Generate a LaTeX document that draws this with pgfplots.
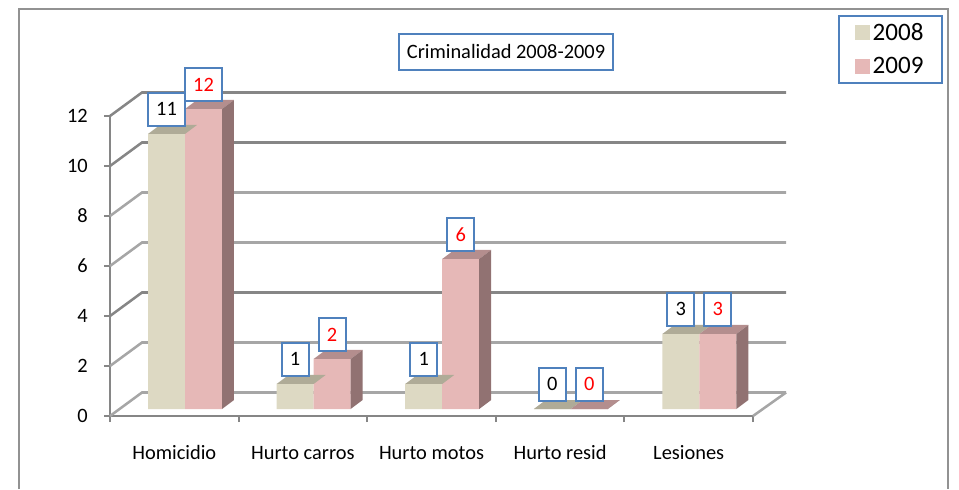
\documentclass[border=0pt]{standalone}
\usepackage{pgfplots}
\pgfplotsset{compat=1.18}
\usepackage{fontspec}
\setmainfont{Carlito}
\definecolor{beige}{HTML}{DDD9C3}
\definecolor{beigetop}{HTML}{AFAB97}
\definecolor{rosa}{HTML}{E6B8B7}
\definecolor{rosatop}{HTML}{B48E8E}
\definecolor{rosaside}{HTML}{917272}
\definecolor{azul}{HTML}{4F81BD}
\definecolor{gridd}{HTML}{868686}
\definecolor{gridl}{HTML}{A6A6A6}
\newcommand\lab{\fontsize{15.3}{18}\selectfont}
% one wall line: value level, colour
\newcommand\wall[2]{\addplot[#2,line width=1.9pt,forget plot] coordinates {(0,#1) (0.2488,{#1+0.94}) (5.257,{#1+0.94})};}
% top and side faces of the pair of bars at centre #1 with values #2 (2008), #3 (2009)
\newcommand\faces[3]{%
\addplot[fill=beigetop,draw=none,forget plot] coordinates {({#1-0.2877},#2) (#1,#2) ({#1+0.0933},{#2+0.36}) ({#1-0.1944},{#2+0.36}) ({#1-0.2877},#2)};
\addplot[fill=rosatop,draw=none,forget plot] coordinates {(#1,#3) ({#1+0.2877},#3) ({#1+0.381},{#3+0.36}) ({#1+0.0933},{#3+0.36}) (#1,#3)};
\addplot[fill=rosaside,draw=none,forget plot] coordinates {({#1+0.2877},0) ({#1+0.381},0.36) ({#1+0.381},{#3+0.36}) ({#1+0.2877},#3) ({#1+0.2877},0)};
}
\pgfplotsset{lbox/.style 2 args={forget plot,ybar,bar width=27.75pt,draw=none,fill=none,
  nodes near coords,
  every node near coord/.append style={anchor=south,yshift=5.4pt,xshift=#2,font=\lab,draw=azul,line width=1.5pt,fill=white,
    minimum height=24.6pt,inner xsep=6.3pt,inner ysep=0pt,text=#1}}}
\begin{document}
\begin{tikzpicture}
\useasboundingbox (0,0) rectangle (719.25pt,366.75pt);
\draw[gridd!90,line width=1.7pt] (14.25pt,0pt) -- (14.25pt,360pt) -- (711pt,360pt) -- (711pt,0pt);
\begin{axis}[
  at={(82.5pt,54.75pt)},anchor=south west,scale only axis,width=482.25pt,height=225pt,
  xmin=0,xmax=5,ymin=0,ymax=12,clip=false,no markers,
  axis lines=left,axis line style={-,gridd,line width=1.6pt},
  tick align=outside,major tick length=4.5pt,
  tick style={gridd,line width=1.4pt},
  ytick={0,2,4,6,8,10,12},
  yticklabel style={font=\lab,inner sep=0pt,xshift=-12pt},
  xtick={0,1,2,3,4,5},xticklabels={},
  extra x ticks={0.5,1.5,2.5,3.5,4.5},
  extra x tick labels={Homicidio,Hurto carros,Hurto motos,Hurto resid,Lesiones},
  extra x tick style={major tick length=0pt,tick style={draw=none},
    xticklabel style={font=\lab,inner sep=0pt,yshift=-21.5pt,text height=11pt,text depth=3.5pt}},
  /pgf/number format/assume math mode=true,
  title={Criminalidad 2008-2009},
  title style={at={(0.6159,1.188)},anchor=center,font=\lab,draw=azul,line width=1.5pt,fill=white,
    minimum width=160.5pt,minimum height=27pt,inner sep=0pt},
]
\wall{0}{gridl}
\wall{2}{gridl}
\wall{4}{gridd}
\wall{6}{gridl}
\wall{8}{gridl}
\wall{10}{gridd}
\wall{12}{gridd}
\addplot[gridl,line width=1.9pt,forget plot] coordinates {(5,0) (5.257,0.94)};
\end{axis}
\begin{axis}[
  at={(90.525pt,60pt)},anchor=south west,scale only axis,width=482.25pt,height=225pt,
  xmin=0,xmax=5,ymin=0,ymax=12,clip=false,no markers,hide axis,
  /pgf/number format/assume math mode=true,
  legend cell align=left,
  legend image code/.code={\fill[#1] (0pt,-5.6pt) rectangle (11.25pt,5.6pt);},
  legend style={at={(1.1155,1.3133)},anchor=north west,draw=azul,line width=1.5pt,
    font=\fontsize{18.8}{22}\selectfont,inner xsep=12pt,inner ysep=3.5pt,row sep=7pt},
]
\addplot[ybar,bar width=27.75pt,bar shift=-13.875pt,fill=beige,draw=none] coordinates {(0.5,11) (1.5,1) (2.5,1) (3.5,0) (4.5,3)};
\addlegendentry{2008}
\addplot[ybar,bar width=27.75pt,bar shift=13.875pt,fill=rosa,draw=none] coordinates {(0.5,12) (1.5,2) (2.5,6) (3.5,0) (4.5,3)};
\addlegendentry{2009}
\faces{0.5}{11}{12}
\faces{1.5}{1}{2}
\faces{2.5}{1}{6}
\faces{3.5}{0}{0}
\faces{4.5}{3}{3}
\addplot[lbox={black}{-13.875pt}] coordinates {(0.5,11) (1.5,1) (2.5,1) (3.5,0) (4.5,3)};
\addplot[lbox={red}{13.875pt}] coordinates {(0.5,12) (1.5,2) (2.5,6) (3.5,0) (4.5,3)};
\end{axis}
\end{tikzpicture}
\end{document}
